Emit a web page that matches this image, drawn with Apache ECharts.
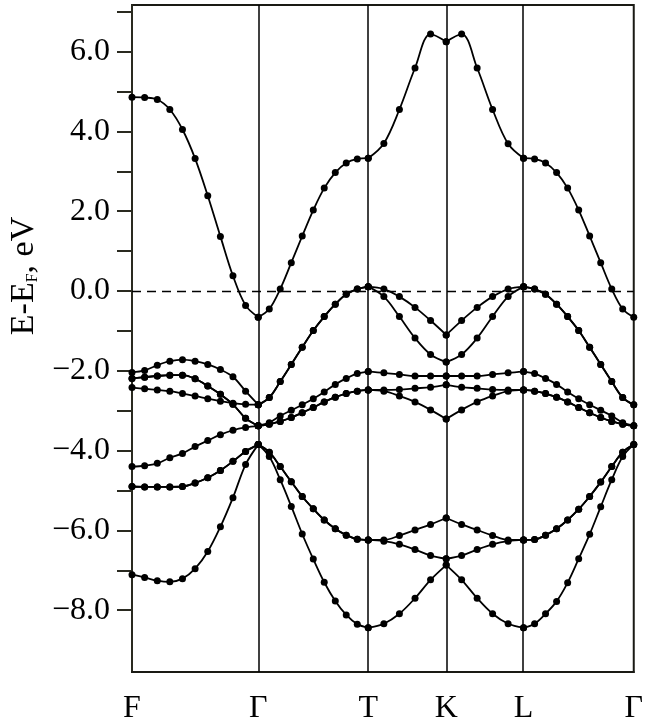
<!DOCTYPE html>
<html><head><meta charset="utf-8">
<script src="https://cdn.jsdelivr.net/npm/echarts@6/dist/echarts.min.js"></script>
<style>html,body{margin:0;padding:0;background:#fff}#c{width:646px;height:725px}</style>
</head><body><div id="c"></div>
<script>
// High-symmetry points along the k-path
const kTicks = [0, 1.268, 2.373, 3.156, 3.933, 5.040];
const kLabels = ['F', 'Γ', 'T', 'K', 'L', 'Γ'];
// k positions of the calculated points (41 points)
const kPath = [
  0, 0.127, 0.254, 0.380, 0.507, 0.634, 0.761, 0.888, 1.014, 1.141, 1.268,
  1.379, 1.489, 1.600, 1.710, 1.821, 1.931, 2.042, 2.152, 2.263, 2.373,
  2.530, 2.686, 2.843, 2.999, 3.156,
  3.311, 3.467, 3.622, 3.778, 3.933,
  4.044, 4.154, 4.265, 4.376, 4.487, 4.597, 4.708, 4.819, 4.929, 5.040
];
const segBounds = [0, 10, 20, 25, 30, 40];

// Band energies (eV), E - E_F
const band1 = [4.86, 4.85, 4.80, 4.55, 4.05, 3.32, 2.39, 1.37, 0.38, -0.36, -0.655,
  -0.45, 0.05, 0.71, 1.38, 2.03, 2.58, 2.97, 3.21, 3.31, 3.33,
  3.70, 4.55, 5.59, 6.44, 6.25,
  6.44, 5.59, 4.55, 3.69, 3.33,
  3.31, 3.21, 2.97, 2.58, 2.03, 1.38, 0.71, 0.05, -0.45, -0.655];
const band2 = [-2.04, -1.99, -1.86, -1.76, -1.72, -1.76, -1.84, -1.97, -2.15, -2.51, -2.85,
  -2.67, -2.27, -1.84, -1.41, -0.99, -0.64, -0.33, -0.08, 0.05, 0.11,
  0.05, -0.14, -0.41, -0.74, -1.10,
  -0.74, -0.41, -0.14, 0.05, 0.11,
  0.05, -0.08, -0.33, -0.64, -0.99, -1.41, -1.84, -2.27, -2.67, -2.85];
const band3 = [-2.42, -2.45, -2.48, -2.51, -2.57, -2.63, -2.70, -2.76, -2.81, -2.84, -2.85,
  -2.67, -2.27, -1.84, -1.41, -0.99, -0.64, -0.33, -0.08, 0.05, 0.11,
  -0.14, -0.64, -1.18, -1.59, -1.78,
  -1.59, -1.18, -0.64, -0.14, 0.11,
  0.05, -0.08, -0.33, -0.64, -0.99, -1.41, -1.84, -2.27, -2.67, -2.85];
const band4 = [-4.40, -4.38, -4.32, -4.18, -4.07, -3.90, -3.75, -3.60, -3.49, -3.42, -3.38,
  -3.30, -3.13, -2.99, -2.85, -2.70, -2.53, -2.34, -2.19, -2.07, -2.02,
  -2.05, -2.09, -2.13, -2.13, -2.13,
  -2.13, -2.13, -2.09, -2.05, -2.02,
  -2.07, -2.19, -2.34, -2.53, -2.70, -2.85, -2.99, -3.13, -3.30, -3.38];
const band5 = [-2.19, -2.16, -2.13, -2.11, -2.11, -2.20, -2.38, -2.59, -2.84, -3.19, -3.38,
  -3.34, -3.27, -3.17, -3.05, -2.92, -2.78, -2.66, -2.57, -2.51, -2.48,
  -2.48, -2.47, -2.44, -2.41, -2.35,
  -2.41, -2.44, -2.47, -2.48, -2.48,
  -2.51, -2.57, -2.66, -2.78, -2.92, -3.05, -3.17, -3.27, -3.34, -3.38];
const band6 = [-2.19, -2.16, -2.13, -2.11, -2.11, -2.20, -2.38, -2.59, -2.84, -3.19, -3.38,
  -3.34, -3.27, -3.17, -3.05, -2.92, -2.78, -2.66, -2.57, -2.51, -2.48,
  -2.51, -2.63, -2.78, -2.98, -3.21,
  -2.98, -2.78, -2.63, -2.51, -2.48,
  -2.51, -2.57, -2.66, -2.78, -2.92, -3.05, -3.17, -3.27, -3.34, -3.38];
const band7 = [-4.90, -4.91, -4.91, -4.91, -4.90, -4.81, -4.68, -4.50, -4.27, -4.02, -3.85,
  -4.04, -4.40, -4.78, -5.15, -5.46, -5.74, -5.96, -6.12, -6.22, -6.24,
  -6.24, -6.13, -5.99, -5.85, -5.69,
  -5.85, -5.99, -6.13, -6.24, -6.24,
  -6.23, -6.12, -5.96, -5.74, -5.47, -5.15, -4.79, -4.40, -4.04, -3.85];
const band8 = [-4.90, -4.91, -4.91, -4.91, -4.90, -4.81, -4.68, -4.50, -4.27, -4.02, -3.85,
  -4.04, -4.40, -4.78, -5.15, -5.46, -5.74, -5.96, -6.12, -6.22, -6.24,
  -6.27, -6.35, -6.48, -6.63, -6.71,
  -6.63, -6.48, -6.35, -6.27, -6.24,
  -6.23, -6.12, -5.96, -5.74, -5.47, -5.15, -4.79, -4.40, -4.04, -3.85];
const band9 = [-7.11, -7.18, -7.26, -7.29, -7.21, -6.96, -6.53, -5.91, -5.18, -4.35, -3.85,
  -4.15, -4.73, -5.40, -6.09, -6.72, -7.30, -7.77, -8.12, -8.35, -8.44,
  -8.34, -8.09, -7.70, -7.24, -6.87,
  -7.24, -7.70, -8.09, -8.34, -8.44,
  -8.34, -8.09, -7.78, -7.31, -6.71, -6.10, -5.41, -4.73, -4.15, -3.85];

// Y axis ticks
const yLabelTicks = [-8, -6, -4, -2, 0, 2, 4, 6];
const yTicks = [-8, -7, -6, -5, -4, -3, -2, -1, 0, 1, 2, 3, 4, 5, 6, 7];

const bands = [band1, band2, band3, band4, band5, band6, band7, band8, band9];
const FONT = '"Liberation Serif", "Times New Roman", serif';
const series = [];
bands.forEach(function (b) {
  for (let s = 0; s < 5; s++) {
    const data = [];
    for (let i = segBounds[s]; i <= segBounds[s + 1]; i++) data.push([kPath[i], b[i]]);
    series.push({
      type: 'line', data: data, smooth: 0.35, symbol: 'circle', symbolSize: 7,
      showSymbol: true, silent: true, animation: false, z: 3,
      itemStyle: { color: '#000' }, lineStyle: { color: '#000', width: 1.8 }
    });
  }
});
const markData = kTicks.slice(1, 5).map(function (v) {
  return { xAxis: v, lineStyle: { type: 'solid', color: '#000', width: 1.5 } };
});
markData.push({ yAxis: 0, lineStyle: { type: [9, 6], color: '#000', width: 1.3 } });
series[0].markLine = { symbol: 'none', silent: true, animation: false, label: { show: false }, data: markData };

const chart = echarts.init(document.getElementById('c'), null, { renderer: 'canvas' });
chart.setOption({
  animation: false,
  backgroundColor: '#fff',
  grid: { left: 132, right: 9, top: 5, bottom: 49, show: true, borderColor: '#1a1a14', borderWidth: 2, backgroundColor: 'transparent' },
  xAxis: {
    type: 'value', min: kTicks[0], max: kTicks[kTicks.length - 1],
    splitLine: { show: false },
    axisLine: { show: true, onZero: false, lineStyle: { color: '#1a1a14', width: 2 } },
    axisTick: { show: false },
    axisLabel: {
      customValues: kTicks, showMinLabel: true, showMaxLabel: true, hideOverlap: false,
      formatter: function (v) {
        let best = 0;
        kTicks.forEach(function (t, i) { if (Math.abs(t - v) < Math.abs(kTicks[best] - v)) best = i; });
        return kLabels[best];
      },
      fontFamily: FONT, fontSize: 32, color: '#000', margin: 21
    }
  },
  yAxis: {
    type: 'value', min: -9.55, max: 7.17,
    splitLine: { show: false },
    axisLine: { show: true, onZero: false, lineStyle: { color: '#2a2a20', width: 2 } },
    axisTick: { show: true, inside: false, length: 15, customValues: yTicks, lineStyle: { color: '#2a2a20', width: 2 } },
    axisLabel: {
      customValues: yLabelTicks, showMinLabel: true, showMaxLabel: true,
      formatter: function (v) { return (v < 0 ? '\u2212' : '') + Math.abs(v).toFixed(1); },
      fontFamily: FONT, fontSize: 32, color: '#000', margin: 22
    }
  },
  graphic: [{
    type: 'text', x: 24, y: 276, rotation: Math.PI / 2, silent: true,
    style: {
      text: '{m|E-E}{s|F}{m|, eV}', align: 'center', verticalAlign: 'middle',
      rich: {
        m: { fontFamily: FONT, fontSize: 34, fill: '#000' },
        s: { fontFamily: FONT, fontSize: 16, fill: '#000', verticalAlign: 'bottom', padding: [14, 0, 0, 0] }
      }
    }
  }],
  series: series
});
</script>
</body></html>
